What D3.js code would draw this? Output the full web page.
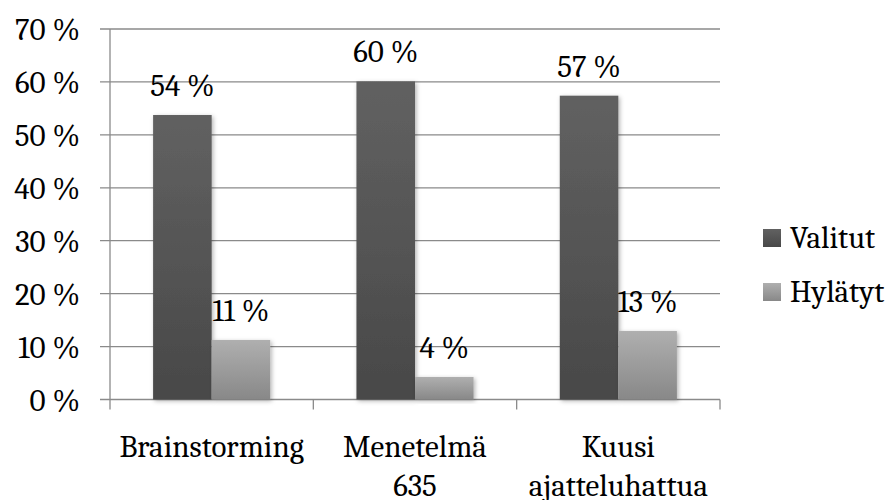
<!DOCTYPE html>
<html>
<head>
<meta charset="utf-8">
<script src="https://cdn.jsdelivr.net/npm/d3@7/dist/d3.min.js"></script>
<style>
  html, body { margin: 0; padding: 0; background: #fff; }
</style>
</head>
<body>
<svg id="chart" width="892" height="500"></svg>
<script>
// Chart data
const categories = [["Brainstorming"], ["Menetelmä", "635"], ["Kuusi", "ajatteluhattua"]];
const categoryKeys = ["Brainstorming", "Menetelmä 635", "Kuusi ajatteluhattua"];
const seriesNames = ["Valitut", "Hylätyt"];
const valitut = [0.5375, 0.601, 0.574];
const hylatyt = [0.1124, 0.0425, 0.1294];
const yTicks = [0, 0.1, 0.2, 0.3, 0.4, 0.5, 0.6, 0.7];

const FONT = '"Caladea", "Liberation Serif", serif';
const FS = 31;
const svg = d3.select("#chart");
const plotLeft = 110, plotRight = 720, plotTop = 29, plotBottom = 399.5;

const y = d3.scaleLinear().domain([0, 0.7]).range([plotBottom, plotTop]);
const x0 = d3.scaleBand().domain(categoryKeys).range([plotLeft, plotRight]).paddingInner(0).paddingOuter(0);
const groupW = x0.bandwidth() * 0.576;
const x1 = d3.scaleBand().domain(seriesNames).range([0, groupW]);
const pct = d3.format(".0%");
const fmt = v => pct(v).replace("%", " %");

// Gradients and shadow
const defs = svg.append("defs");
const grads = [["gDark", "#616161", "#484848"], ["gLight", "#afafaf", "#888888"]];
grads.forEach(([id, c1, c2]) => {
  const g = defs.append("linearGradient").attr("id", id).attr("x1", 0).attr("y1", 0).attr("x2", 0).attr("y2", 1);
  g.append("stop").attr("offset", "0%").attr("stop-color", c1);
  g.append("stop").attr("offset", "100%").attr("stop-color", c2);
});
const f = defs.append("filter").attr("id", "shadow").attr("x", "-20%").attr("y", "-10%").attr("width", "150%").attr("height", "130%");
f.append("feDropShadow").attr("dx", 1.5).attr("dy", 1.5).attr("stdDeviation", 2).attr("flood-color", "#000").attr("flood-opacity", 0.3);

// Gridlines with left tick stubs
svg.append("g").selectAll("line").data(yTicks).join("line")
  .attr("x1", plotLeft - 10).attr("x2", plotRight)
  .attr("y1", d => y(d)).attr("y2", d => y(d))
  .attr("stroke", "#8a8a8a").attr("stroke-width", 1.3);

// Y axis line
svg.append("line").attr("x1", plotLeft).attr("x2", plotLeft).attr("y1", plotTop).attr("y2", plotBottom + 10)
  .attr("stroke", "#8a8a8a").attr("stroke-width", 1.3);

// X axis category ticks
const bounds = categoryKeys.map(k => x0(k)).concat([plotRight]);
svg.append("g").selectAll("line").data(bounds.slice(1)).join("line")
  .attr("x1", d => d).attr("x2", d => d).attr("y1", plotBottom).attr("y2", plotBottom + 10)
  .attr("stroke", "#8a8a8a").attr("stroke-width", 1.3);

// Y tick labels
svg.append("g").selectAll("text").data(yTicks).join("text")
  .style("font-family", FONT).style("font-size", FS + "px")
  .attr("x", 80).attr("y", d => y(d) + 11)
  .attr("text-anchor", "end")
  .text(d => fmt(d));

// Bars
const series = [valitut, hylatyt];
const fills = ["url(#gDark)", "url(#gLight)"];
const groups = svg.append("g").selectAll("g").data(categoryKeys).join("g")
  .attr("transform", d => `translate(${x0(d) + (x0.bandwidth() - groupW) / 2},0)`);

groups.each(function(cat, i) {
  const g = d3.select(this);
  seriesNames.forEach((s, j) => {
    const v = series[j][i];
    g.append("rect")
      .attr("x", x1(s)).attr("width", x1.bandwidth())
      .attr("y", y(v)).attr("height", y(0) - y(v))
      .attr("fill", fills[j]).attr("filter", "url(#shadow)");
  });
  seriesNames.forEach((s, j) => {
    const v = series[j][i];
    g.append("text")
      .style("font-family", FONT).style("font-size", FS + "px")
      .attr("x", x1(s) + x1.bandwidth() / 2).attr("y", y(v) - 19)
      .attr("text-anchor", "middle")
      .text(fmt(v));
  });
});

// Category labels
svg.append("g").selectAll("text").data(categories).join("text")
  .style("font-family", FONT).style("font-size", FS + "px")
  .attr("x", (d, i) => x0(categoryKeys[i]) + x0.bandwidth() / 2)
  .attr("y", 457)
  .attr("text-anchor", "middle")
  .each(function(lines) {
    d3.select(this).selectAll("tspan").data(lines).join("tspan")
      .attr("x", d3.select(this).attr("x"))
      .attr("dy", (d, k) => k === 0 ? 0 : 39)
      .text(d => d);
  });

// Legend
const legend = svg.append("g").selectAll("g").data(seriesNames).join("g")
  .attr("transform", (d, i) => `translate(763,${229 + i * 54})`);
legend.append("rect").attr("width", 18).attr("height", 18).attr("fill", (d, i) => fills[i]);
legend.append("text").style("font-family", FONT).style("font-size", FS + "px")
  .attr("x", 27).attr("y", 19).text(d => d);
</script>
</body>
</html>
